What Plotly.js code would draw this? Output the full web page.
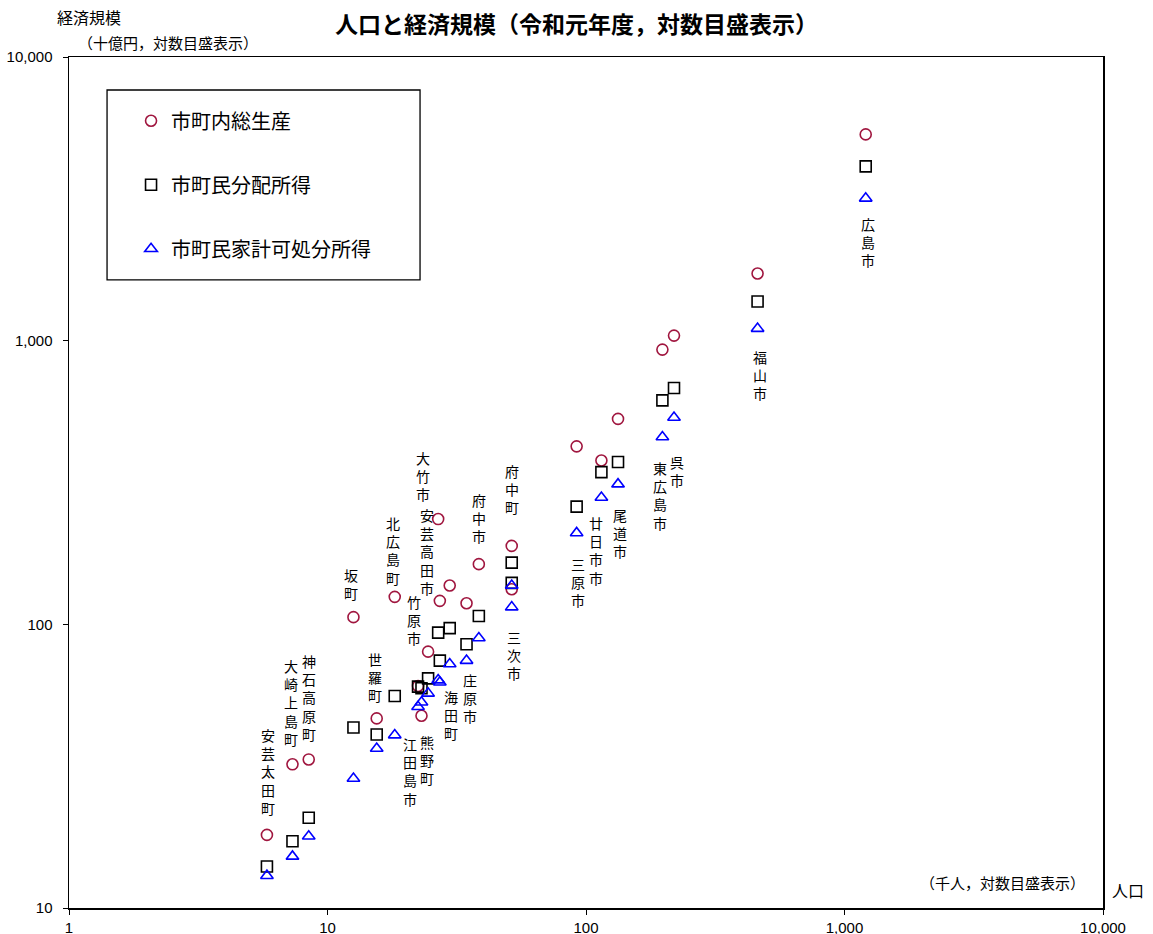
<!DOCTYPE html>
<html>
<head>
<meta charset="utf-8">
<script src="https://cdn.plot.ly/plotly-3.0.1.min.js"></script>
<style>html,body{margin:0;padding:0;background:#fff;}#chart{width:1153px;height:934px;}</style>
</head>
<body>
<div id="chart"></div>
<script>
// ---- data ----
const names = ["広島市","呉市","竹原市","三原市","尾道市","福山市","府中市","三次市","庄原市","大竹市","東広島市","廿日市市","安芸高田市","江田島市","府中町","海田町","熊野町","坂町","安芸太田町","北広島町","大崎上島町","世羅町","神石高原町"];
const population = [1208, 219, 24.5, 92, 133, 461, 38.5, 51.6, 34.5, 26.8, 197.5, 114.7, 27.2, 22.4, 51.6, 29.7, 23.1, 12.6, 5.83, 18.2, 7.32, 15.5, 8.46];
const grossProduct = [5335, 1042, 80.1, 424, 530, 1725, 163, 133, 118.7, 235, 930, 378, 121, 60.6, 189, 137, 47.6, 106, 18.1, 125, 32.1, 46.6, 33.4];
const residentIncome = [4115, 681, 64.5, 260, 373.5, 1374, 107, 140, 85.1, 93.5, 616, 344, 74.5, 60.3, 165, 97, 59.5, 43.3, 14.0, 55.9, 17.2, 40.9, 20.8];
const householdIncome = [3175, 536, 57.1, 210, 312, 1103, 89.5, 115, 74.5, 63.6, 457.5, 280, 62.5, 51.2, 137, 72.5, 53.1, 28.6, 13.0, 40.7, 15.2, 36.5, 17.9];
const seriesNames = ["市町内総生産","市町民分配所得","市町民家計可処分所得"];
const xTickVals = [1, 10, 100, 1000, 10000];
const xTickText = ["1","10","100","1,000","10,000"];
const yTickVals = [10, 100, 1000, 10000];
const yTickText = ["10","100","1,000","10,000"];

// label offsets in pixels relative to the circle marker [dx, dy(up)]
const labelOffsets = [[2,-108],[3,-135],[-14,32],[1,-136],[2,-114],[2,-101],[0,46],[2,-66],[3,-95],[-15,43],[-2,-146],[-5,-90],[-13,49],[-8,-85],[0,57],[1,-129],[6,-44],[-2,33],[1,63],[-2,46],[-1,62],[-2,41],[0,62]];

const JP = '"Noto Sans CJK JP", "Noto Sans", sans-serif';
const NUM = '"Liberation Sans", Arial, sans-serif';

const traces = [
  {x: population, y: grossProduct, name: seriesNames[0], mode: 'markers', type: 'scatter', legendgroup: 'a',
   marker: {symbol: 'circle-open', size: 11, color: '#A0163F', line: {width: 1.6, color: '#A0163F'}}},
  {x: population, y: residentIncome, name: seriesNames[1], mode: 'markers', type: 'scatter', legendgroup: 'b',
   marker: {symbol: 'square-open', size: 11, color: '#000000', line: {width: 1.6, color: '#000000'}}},
  {x: population, y: householdIncome, name: seriesNames[2], mode: 'markers', type: 'scatter', legendgroup: 'c',
   marker: {symbol: 'triangle-up-open', size: 11, color: '#0000FF', line: {width: 1.6, color: '#0000FF'}}}
];

const annotations = names.map((n, i) => ({
  x: Math.log10(population[i]), y: Math.log10(grossProduct[i]), xref: 'x', yref: 'y',
  text: n.split('').join('<br>'), showarrow: false, xanchor: 'center', yanchor: 'middle',
  xshift: labelOffsets[i][0], yshift: labelOffsets[i][1],
  font: {family: JP, size: 14, color: '#000'}
}));
annotations.push(
  {xref: 'paper', yref: 'paper', x: (89-69)/1034, y: (908-17)/851, text: '経済規模', showarrow: false, xanchor: 'center', yanchor: 'middle', font: {family: JP, size: 16, color: '#000'}},
  {xref: 'paper', yref: 'paper', x: (168-69)/1034, y: (908-43)/851, text: '（十億円，対数目盛表示）', showarrow: false, xanchor: 'center', yanchor: 'middle', font: {family: JP, size: 15, color: '#000'}},
  {xref: 'paper', yref: 'paper', x: (1002-69)/1034, y: (908-882)/851, text: '（千人，対数目盛表示）', showarrow: false, xanchor: 'center', yanchor: 'middle', font: {family: JP, size: 15, color: '#000'}},
  {xref: 'paper', yref: 'paper', x: (1128-69)/1034, y: (908-890)/851, text: '人口', showarrow: false, xanchor: 'center', yanchor: 'middle', font: {family: JP, size: 16, color: '#000'}}
);

const layout = {
  width: 1153, height: 934,
  margin: {l: 69, r: 50, t: 57, b: 26},
  paper_bgcolor: '#fff', plot_bgcolor: '#fff',
  title: {text: '<b>人口と経済規模（令和元年度，対数目盛表示）</b>', x: 0.5, xref: 'container', xanchor: 'center',
          y: 1 - 25/934, yref: 'container', yanchor: 'middle', font: {family: JP, size: 23, color: '#000'}},
  xaxis: {type: 'log', range: [0, 4], tickvals: xTickVals, ticktext: xTickText, ticks: 'outside', ticklen: 5,
          tickcolor: '#000', showgrid: false, zeroline: false, showline: true, linecolor: '#000', linewidth: 1.5,
          mirror: true, tickfont: {family: NUM, size: 15, color: '#000'}, automargin: false},
  yaxis: {type: 'log', range: [1, 4], tickvals: yTickVals, ticktext: yTickText, ticks: 'outside', ticklen: 5,
          tickcolor: '#000', showgrid: false, zeroline: false, showline: true, linecolor: '#000', linewidth: 1.5,
          mirror: true, tickfont: {family: NUM, size: 15, color: '#000'}, ticklabelstandoff: 7, automargin: false},
  showlegend: true,
  legend: {x: 0.060, y: 0.948, xanchor: 'left', yanchor: 'top', bgcolor: 'rgba(0,0,0,0)', borderwidth: 0,
           traceorder: 'grouped', tracegroupgap: 35, font: {family: JP, size: 20, color: '#000'}, itemwidth: 30},
  shapes: [{type: 'rect', xref: 'paper', yref: 'paper', x0: 0.0368, x1: 0.3395, y0: 0.738, y1: 0.9612,
            line: {color: '#000', width: 1.3}, fillcolor: 'rgba(0,0,0,0)'}],
  annotations: annotations
};

Plotly.newPlot('chart', traces, layout, {displayModeBar: false, staticPlot: true});
</script>
</body>
</html>
